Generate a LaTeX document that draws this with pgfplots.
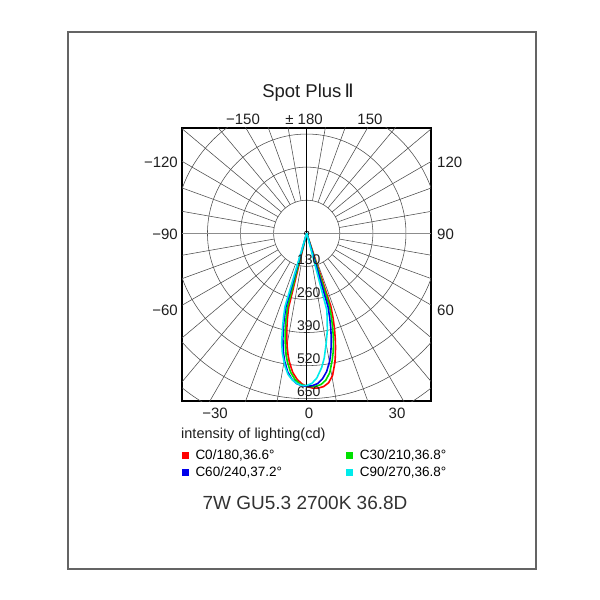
\documentclass[border=0pt]{standalone}
\usepackage{pgfplots}
\pgfplotsset{compat=1.18}
\usepackage{pgfplotstable}
\usepackage{fontspec}
\setmainfont{Liberation Sans}
\newfontfamily\dejavu{DejaVu Sans}
\definecolor{cR}{RGB}{255,0,0}
\definecolor{cG}{RGB}{0,225,0}
\definecolor{cB}{RGB}{0,0,235}
\definecolor{cC}{RGB}{0,235,235}
\definecolor{gridc}{RGB}{75,75,75}
\definecolor{framec}{RGB}{100,100,100}
\definecolor{txt}{RGB}{30,30,30}

% C0/180
\pgfplotstableread{
t r
-90 0
-40 1
-20 3
-15.7 5
-13.7 300
-12.7 346
-11.7 386
-10.7 422
-9.7 455
-8.7 484
-7.7 510
-5.7 550
-3.7 576
-1.7 593
0.3 603
2.3 609
4.3 610
6.3 606
8.3 594
10.3 568
12.3 520
13.3 490
14.3 458
15.3 424
16.3 388
17.3 348
18.3 302
20.3 5
25 3
40 1
90 0
}\tabR
% C30/210
\pgfplotstableread{
t r
-90 0
-40 1
-20 3
-16.6 5
-14.6 300
-13.6 346
-12.6 386
-11.6 422
-10.6 455
-9.6 484
-8.6 510
-6.6 550
-4.6 576
-2.6 593
-0.6 600
1.4 603
3.4 602
5.4 597
7.4 582
9.4 555
11.4 508
12.4 482
13.4 453
14.4 420
15.4 384
16.4 344
17.4 298
19.4 5
25 3
40 1
90 0
}\tabG
% C60/240
\pgfplotstableread{
t r
-90 0
-40 1
-20 3
-17.8 5
-15.8 300
-14.8 346
-13.8 386
-12.8 422
-11.8 455
-10.8 484
-9.8 510
-7.8 550
-5.8 576
-3.8 592
-1.8 599
0.2 601
2.2 599
4.2 592
6.2 575
8.2 549
10.2 510
11.2 484
12.2 455
13.2 422
14.2 386
15.2 346
16.2 300
18.2 5
25 3
40 1
90 0
}\tabB
% C90/270
\pgfplotstableread{
t r
-90 0
-40 1
-20 3
-18.5 5
-16.5 300
-15.5 340
-14.5 378
-13.5 415
-12.8 443
-11.5 480
-10.2 508
-9.2 531
-7.5 560
-5.5 580
-3.8 591
-2 598
0 598
2 590
4 570
6.4 530
8 495
10 440
12 390
13.5 345
14.7 311
16.7 5
25 3
40 1
90 0
}\tabC

\begin{document}
\begin{tikzpicture}
\useasboundingbox (0,0) rectangle (600pt,-600pt);
\draw[line width=1.6pt, framec] (68pt,-32pt) rectangle (536pt,-569pt);
\begin{axis}[
  at={(182pt,-401pt)}, anchor=south west,
  x=0.2545pt, y=0.2545pt,
  xmin=-490, xmax=488, ymin=-659, ymax=414,
  xtick=\empty, ytick=\empty,
  axis line style={line width=1.3pt, black},
  legend columns=2,
  legend style={at={(rel axis cs:0,0)}, anchor=north west, xshift=0pt, yshift=-47pt,
    draw=none, fill=none, inner sep=0pt, font=\fontsize{13.5}{15}\selectfont,
    nodes={inner sep=1.5pt}, cells={anchor=west}, row sep=2.5pt,
    /tikz/every odd column/.append style={column sep=5pt},
    /tikz/every even column/.append style={column sep=63pt}},
  legend image code/.code={\fill[#1] (0pt,-2.6pt) rectangle (5.2pt,2.6pt);},
]
\pgfplotsinvokeforeach{130,260,390,520,650,780,910}{
  \draw[gridc, line width=0.55pt] (axis cs:0,0) circle[radius=#1];}
\pgfplotsinvokeforeach{10,20,30,40,50,60,70,80,100,110,120,130,140,150,160,170,190,200,210,220,230,240,250,260,280,290,300,310,320,330,340,350}{
  \draw[gridc, line width=0.55pt] (axis cs:{130*sin(#1)},{-130*cos(#1)}) -- (axis cs:{1100*sin(#1)},{-1100*cos(#1)});}
\draw[black!45, line width=0.9pt] (axis cs:-600,0) -- (axis cs:600,0);
\draw[black, line width=0.8pt] (axis cs:0,-700) -- (axis cs:0,500);
\draw[black, line width=0.6pt] (axis cs:0,0) circle[radius=9];

\addplot[color=cR, line width=1.6pt] table[x expr={\thisrow{r}*sin(\thisrow{t})}, y expr={-\thisrow{r}*cos(\thisrow{t})}] {\tabR};
\addlegendentry{C0/180,36.6°}
\addplot[color=cG, line width=1.6pt] table[x expr={\thisrow{r}*sin(\thisrow{t})}, y expr={-\thisrow{r}*cos(\thisrow{t})}] {\tabG};
\addlegendentry{C30/210,36.8°}
\addplot[color=cB, line width=1.6pt] table[x expr={\thisrow{r}*sin(\thisrow{t})}, y expr={-\thisrow{r}*cos(\thisrow{t})}] {\tabB};
\addlegendentry{C60/240,37.2°}
\addplot[color=cC, line width=1.6pt] table[x expr={\thisrow{r}*sin(\thisrow{t})}, y expr={-\thisrow{r}*cos(\thisrow{t})}] {\tabC};
\addlegendentry{C90/270,36.8°}

\pgfplotsinvokeforeach{130,260,390,520,650}{
  \node[font=\fontsize{14}{14}\selectfont, anchor=base, inner sep=0pt, yshift=2pt, txt] at (axis cs:8,-#1) {#1};}
\end{axis}

\node[font=\fontsize{18.5}{20}\selectfont, txt] at (308pt,-93pt) {Spot Plus\,{\dejavu Ⅱ}};
\begin{scope}[every node/.style={font=\fontsize{15}{16}\selectfont, txt, inner sep=0pt}]
\node at (243pt,-119pt) {−150};
\node at (304pt,-119pt) {± 180};
\node at (370pt,-119pt) {150};
\node[anchor=east] at (178pt,-162.7pt) {−120};
\node[anchor=east] at (178pt,-234pt) {−90};
\node[anchor=east] at (178pt,-310pt) {−60};
\node[anchor=west] at (437pt,-162.7pt) {120};
\node[anchor=west] at (437pt,-234pt) {90};
\node[anchor=west] at (437pt,-310pt) {60};
\node at (215pt,-413pt) {−30};
\node at (309pt,-413pt) {0};
\node at (397pt,-413pt) {30};
\end{scope}
\node[anchor=west, inner sep=0pt, font=\fontsize{14.5}{16}\selectfont, txt] at (181pt,-435pt) {intensity of lighting(cd)};
\node[inner sep=0pt, font=\fontsize{19}{20}\selectfont, color={rgb,255:red,50;green,50;blue,50}] at (305pt,-503pt) {7W GU5.3 2700K 36.8D};
\end{tikzpicture}
\end{document}
